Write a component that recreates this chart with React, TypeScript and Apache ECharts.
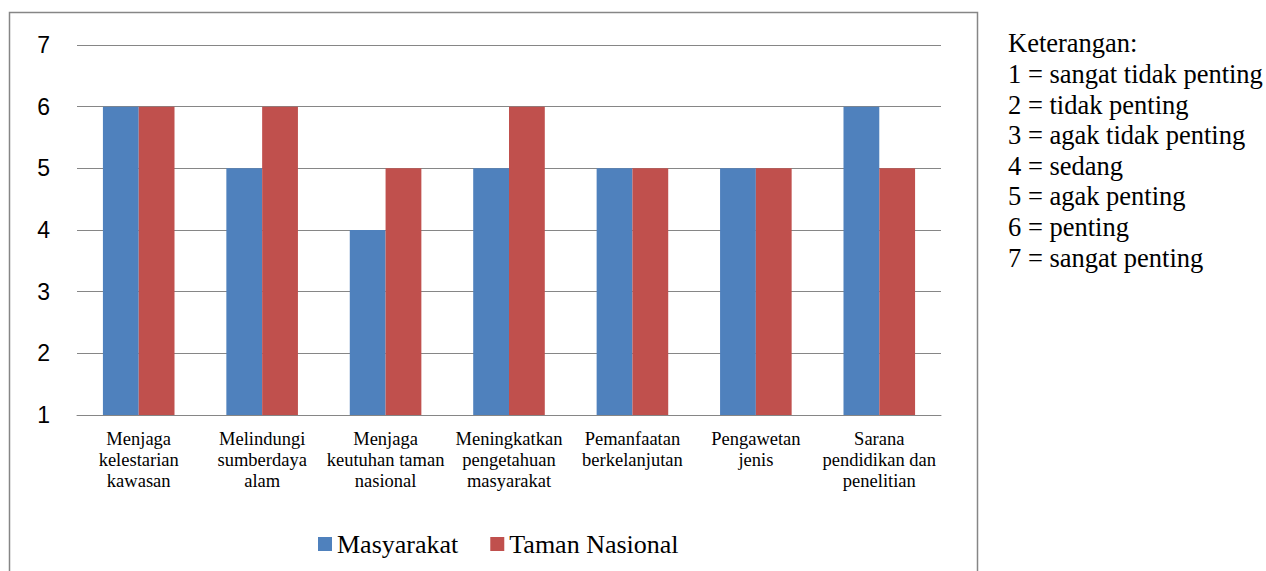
import React, { useEffect, useRef } from "react";
import * as echarts from "echarts";

const categories = [
  "Menjaga\nkelestarian\nkawasan",
  "Melindungi\nsumberdaya\nalam",
  "Menjaga\nkeutuhan taman\nnasional",
  "Meningkatkan\npengetahuan\nmasyarakat",
  "Pemanfaatan\nberkelanjutan",
  "Pengawetan\njenis",
  "Sarana\npendidikan dan\npenelitian",
];
const masyarakat = [6, 5, 4, 5, 5, 5, 6];
const tamanNasional = [6, 6, 5, 6, 5, 5, 5];
const keterangan = [
  "Keterangan:",
  "1 = sangat tidak penting",
  "2 = tidak penting",
  "3 = agak tidak penting",
  "4 = sedang",
  "5 = agak penting",
  "6 = penting",
  "7 = sangat penting",
];

export default function App() {
  const ref = useRef<HTMLDivElement>(null);
  useEffect(() => {
    if (!ref.current) return;
    const chart = echarts.init(ref.current, null, { renderer: "svg" });
    const serif = "Liberation Serif";
    chart.setOption({
      animation: false,
      backgroundColor: "#ffffff",
      textStyle: { fontFamily: serif },
      grid: { left: 77, right: 325, top: 45, bottom: 156 },
      legend: {
        left: 313,
        top: 526,
        icon: "rect",
        itemWidth: 14,
        itemHeight: 14,
        itemGap: 32,
        textStyle: { fontFamily: serif, fontSize: 26, color: "#000" },
        data: ["Masyarakat", "Taman Nasional"],
      },
      xAxis: {
        type: "category",
        data: categories,
        axisLine: { show: true, lineStyle: { color: "#868686", width: 1 } },
        axisTick: { show: false },
        axisLabel: {
          interval: 0,
          margin: 13,
          fontFamily: serif,
          fontSize: 18.5,
          lineHeight: 21,
          color: "#000",
        },
      },
      yAxis: {
        type: "value",
        min: 1,
        max: 7,
        interval: 1,
        axisLine: { show: false },
        axisTick: { show: false },
        axisLabel: {
          margin: 27,
          fontFamily: "Liberation Sans",
          fontSize: 23,
          color: "#000",
        },
        splitLine: { lineStyle: { color: "#868686", width: 1 } },
      },
      graphic: [
        {
          type: "rect",
          shape: { x: 9.5, y: 12.5, width: 968, height: 600 },
          style: { fill: "none", stroke: "#868686", lineWidth: 1.5 },
          silent: true,
        },
        {
          type: "text",
          left: 1008,
          top: 28,
          style: {
            text: keterangan.join("\n"),
            fontFamily: serif,
            fontSize: 26.5,
            lineHeight: 30.6,
            fill: "#000",
          },
        },
      ],
      series: [
        {
          name: "Masyarakat",
          type: "bar",
          data: masyarakat,
          barGap: "0%",
          barCategoryGap: "42%",
          itemStyle: { color: "#4F81BD" },
        },
        {
          name: "Taman Nasional",
          type: "bar",
          data: tamanNasional,
          itemStyle: { color: "#C0504D" },
        },
      ],
    });
    return () => chart.dispose();
  }, []);
  return (
    <div
      ref={ref}
      style={{ position: "absolute", left: 0, top: 0, width: 1266, height: 571 }}
    />
  );
}
